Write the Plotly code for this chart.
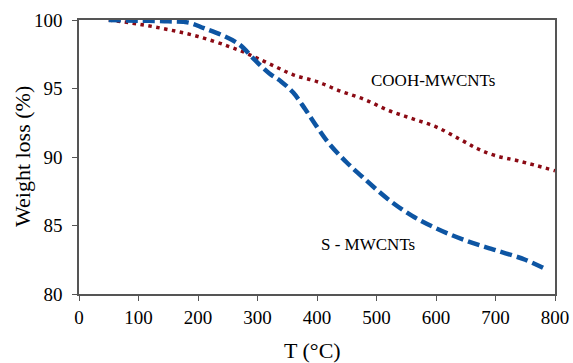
import plotly.graph_objects as go

# S-MWCNTs (blue dashed)
T_s = [50, 100, 150, 185, 210, 240, 270, 295, 320, 340, 360, 380, 400, 420, 450, 480, 520, 560, 600, 650, 700, 750, 785]
W_s = [100, 99.95, 99.9, 99.8, 99.4, 98.9, 98.2, 97.1, 96.1, 95.5, 94.7, 93.5, 92.2, 91.0, 89.6, 88.4, 86.9, 85.7, 84.8, 83.9, 83.2, 82.5, 81.8]

# COOH-MWCNTs (red dotted)
T_c = [50, 100, 150, 200, 250, 280, 300, 330, 360, 400, 440, 480, 520, 560, 600, 640, 670, 700, 740, 800]
W_c = [100, 99.7, 99.3, 98.8, 98.1, 97.6, 97.2, 96.6, 96.0, 95.5, 94.8, 94.2, 93.4, 92.8, 92.2, 91.3, 90.6, 90.1, 89.7, 89.0]

x_ticks = [0, 100, 200, 300, 400, 500, 600, 700, 800]
y_ticks = [80, 85, 90, 95, 100]

font = "Liberation Serif"

fig = go.Figure()
fig.add_trace(go.Scatter(x=T_c, y=W_c, mode="lines",
                         line=dict(color="#8b0a14", width=3.5, dash="3.5px,4.5px", shape="spline"),
                         name="COOH-MWCNTs"))
fig.add_trace(go.Scatter(x=T_s, y=W_s, mode="lines",
                         line=dict(color="#0d55a3", width=4.5, dash="12px,5px", shape="spline"),
                         name="S - MWCNTs"))

fig.add_annotation(x=(433-79)/0.595, y=100-(80-20)/13.7, text="COOH-MWCNTs", showarrow=False,
                   font=dict(family=font, size=17, color="black"))
fig.add_annotation(x=(368-79)/0.595, y=100-(244-20)/13.7, text="S - MWCNTs", showarrow=False,
                   font=dict(family=font, size=17, color="black"))

# axis titles as paper annotations
fig.add_annotation(xref="paper", yref="paper", x=(312-79)/476, y=-(350-294)/274, text="T (°C)",
                   showarrow=False, font=dict(family=font, size=22, color="black"), yanchor="middle")
fig.add_annotation(xref="paper", yref="paper", x=-(79-22)/476, y=(294-157)/274, text="Weight loss (%)",
                   showarrow=False, textangle=-90, font=dict(family=font, size=22, color="black"),
                   xanchor="center", yanchor="middle")

axis_common = dict(showgrid=False, zeroline=False, showline=True, linecolor="#555555", linewidth=1.5,
                   mirror=True, ticks="outside", ticklen=5, tickcolor="#555555", automargin=False,
                   tickfont=dict(family=font, size=19, color="black"))

fig.update_layout(
    width=573, height=363,
    margin=dict(l=79, r=18, t=20, b=69),
    paper_bgcolor="white", plot_bgcolor="white",
    showlegend=False,
    xaxis=dict(range=[0, 800], tickvals=x_ticks, **axis_common),
    yaxis=dict(range=[80, 100], tickvals=y_ticks, ticklabelstandoff=6, **axis_common),
)

# remove the default 8px page margin so the figure fills the window exactly
fig.write_html("out.html", config={"displayModeBar": False},
               post_script="document.body.style.margin='0';document.body.style.overflow='hidden';")
